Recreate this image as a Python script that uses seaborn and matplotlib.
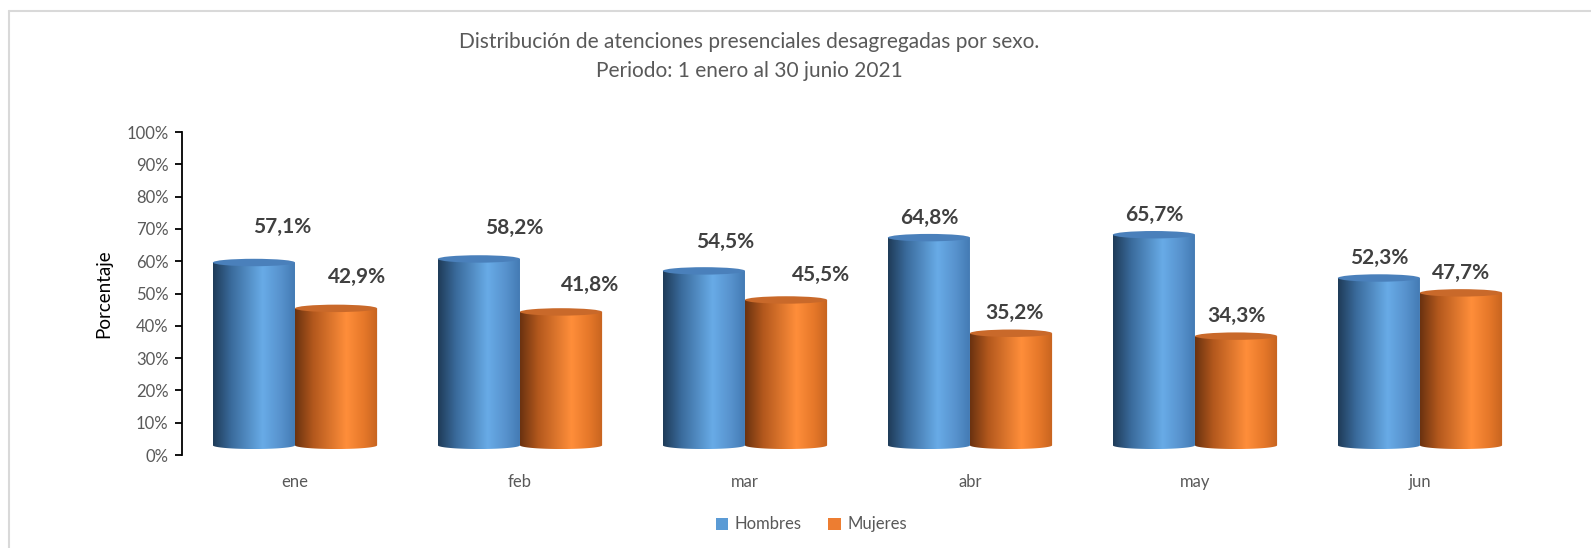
import numpy as np
import pandas as pd
import matplotlib
matplotlib.use("Agg")
import matplotlib.pyplot as plt
import seaborn as sns
from matplotlib.path import Path
from matplotlib.patches import PathPatch, Ellipse, Patch
from matplotlib.colors import LinearSegmentedColormap
from matplotlib.ticker import PercentFormatter, FixedLocator
from matplotlib.lines import Line2D

# ---------------- data ----------------
meses = ["ene", "feb", "mar", "abr", "may", "jun"]
hombres = [0.571, 0.582, 0.545, 0.648, 0.657, 0.523]
mujeres = [0.429, 0.418, 0.455, 0.352, 0.343, 0.477]
series = ["Hombres", "Mujeres"]
yticks = [0.0, 0.1, 0.2, 0.3, 0.4, 0.5, 0.6, 0.7, 0.8, 0.9, 1.0]

titulo1 = "Distribución de atenciones presenciales desagregadas por sexo."
titulo2 = "Periodo: 1 enero al 30 junio 2021"
ylabel = "Porcentaje"

# ---------------- styling / layout ----------------
BLUE = "#5B9BD5"
ORANGE = "#ED7D31"
# label nudges in pixels (dx, dy) per month, as placed in the original
lab_dx_h = [28, 35, 21, 0, 0, 0]
lab_dy_h = [44, 39, 37, 28, 28, 28]
lab_dx_m = [21, 29, 35, 3, 0, 0]
lab_dy_m = [39, 35, 33, 28, 28, 28]
FLOOR = 0.03      # 3D floor offset of the cylinders
CAP = 0.0115      # half-height of the elliptical caps (axis units)

sns.set_theme(style="white")
plt.rcParams["font.family"] = ["Lato", "DejaVu Sans"]

df = pd.DataFrame({
    "mes": meses * 2,
    "valor": hombres + mujeres,
    "sexo": [series[0]] * len(meses) + [series[1]] * len(meses),
})

fig = plt.figure(figsize=(15.91, 5.48), dpi=100)
ax = fig.add_axes([0.1147, 0.1697, 0.8485, 0.5894])

sns.barplot(data=df, x="mes", y="valor", hue="sexo", palette=[BLUE, ORANGE],
            width=0.73, dodge=True, saturation=1, legend=False, ax=ax,
            errorbar=None)

cmap_blue = LinearSegmentedColormap.from_list("b", [
    (0.0, "#1f3b58"), (0.22, "#3a6b9c"), (0.60, "#68abe7"),
    (0.82, "#5792cd"), (1.0, "#4279b2")])
cmap_orange = LinearSegmentedColormap.from_list("o", [
    (0.0, "#6a3210"), (0.22, "#b3581d"), (0.62, "#ff8e3a"),
    (0.84, "#e57729"), (1.0, "#c6631f")])
cap_colors = ["#4a80bb", "#c9692a"]
grad = np.linspace(0, 1, 256)[None, :]

def cylinder(rect, cmap, capc, z):
    x0 = rect.get_x()
    w = rect.get_width()
    h = rect.get_height()
    rect.set_visible(False)
    y0 = FLOOR
    y1 = h + FLOOR - 0.005
    xc = x0 + w / 2
    t = np.linspace(np.pi, 2 * np.pi, 60)
    arc = np.column_stack([xc + (w / 2) * np.cos(t), y0 + CAP * np.sin(t)])
    verts = np.vstack([[[x0, y1]], arc, [[x0 + w, y1]], [[x0, y1]]])
    codes = [Path.MOVETO] + [Path.LINETO] * (len(verts) - 2) + [Path.CLOSEPOLY]
    clip = PathPatch(Path(verts, codes), transform=ax.transData,
                     facecolor="none", edgecolor="none")
    ax.add_patch(clip)
    im = ax.imshow(grad, cmap=cmap, extent=[x0, x0 + w, y0 - CAP, y1],
                   aspect="auto", interpolation="bicubic", zorder=z)
    im.set_clip_path(clip)
    ax.add_patch(Ellipse((xc, y1), w, 2 * CAP, facecolor=capc,
                         edgecolor="none", zorder=z + 0.1))
    return xc

conts = ax.containers
for si, (cont, vals, cmap, dxs, dys) in enumerate([
        (conts[0], hombres, cmap_blue, lab_dx_h, lab_dy_h),
        (conts[1], mujeres, cmap_orange, lab_dx_m, lab_dy_m)]):
    for i, rect in enumerate(cont.patches):
        xc = cylinder(rect, cmap, cap_colors[si], 2 + si)
        v = vals[i]
        ax.annotate(f"{v * 100:.1f}%".replace(".", ","), xy=(xc, v),
                    xytext=(dxs[i], dys[i]), textcoords="offset pixels",
                    ha="center", va="center", fontsize=15, fontweight="bold",
                    color="#404040", zorder=10)

ax.set_xlim(-0.5, len(meses) - 0.5)
ax.set_ylim(0, 1)
ax.yaxis.set_major_locator(FixedLocator(yticks))
ax.yaxis.set_major_formatter(PercentFormatter(1.0, decimals=0))
for s in ["top", "right", "bottom"]:
    ax.spines[s].set_visible(False)
ax.spines["left"].set_color("black")
ax.spines["left"].set_linewidth(1.3)
ax.tick_params(axis="y", direction="out", length=5, width=1.3, color="black",
               labelsize=12, labelcolor="#595959", pad=5, left=True)
ax.tick_params(axis="x", length=0, labelsize=12, labelcolor="#595959", pad=14)
ax.set_xlabel("")
ax.set_ylabel(ylabel, fontsize=13.5, color="black")
ax.yaxis.set_label_coords(-0.052, 0.5)
ax.grid(False)

fig.text(0.4708, 1 - 42.5 / 548, titulo1, ha="center", va="center",
         fontsize=15, color="#595959")
fig.text(0.4708, 1 - 71 / 548, titulo2, ha="center", va="center",
         fontsize=15, color="#595959")

handles = [Patch(facecolor=BLUE, edgecolor="none"),
           Patch(facecolor=ORANGE, edgecolor="none")]
fig.legend(handles, series, loc="center", bbox_to_anchor=(0.51, 0.043),
           ncol=2, frameon=False, fontsize=12, labelcolor="#595959",
           handlelength=0.75, handleheight=0.75, handletextpad=0.4,
           columnspacing=1.6)

# chart frame (top and left edges visible)
bx = 9 / 1591
by = 1 - 11 / 548
fig.add_artist(Line2D([bx, 1], [by, by], transform=fig.transFigure,
                      color="#d9d9d9", linewidth=1.5))
fig.add_artist(Line2D([bx, bx], [0, by], transform=fig.transFigure,
                      color="#d9d9d9", linewidth=1.5))

fig.savefig("out.png", dpi=100, facecolor="white")
